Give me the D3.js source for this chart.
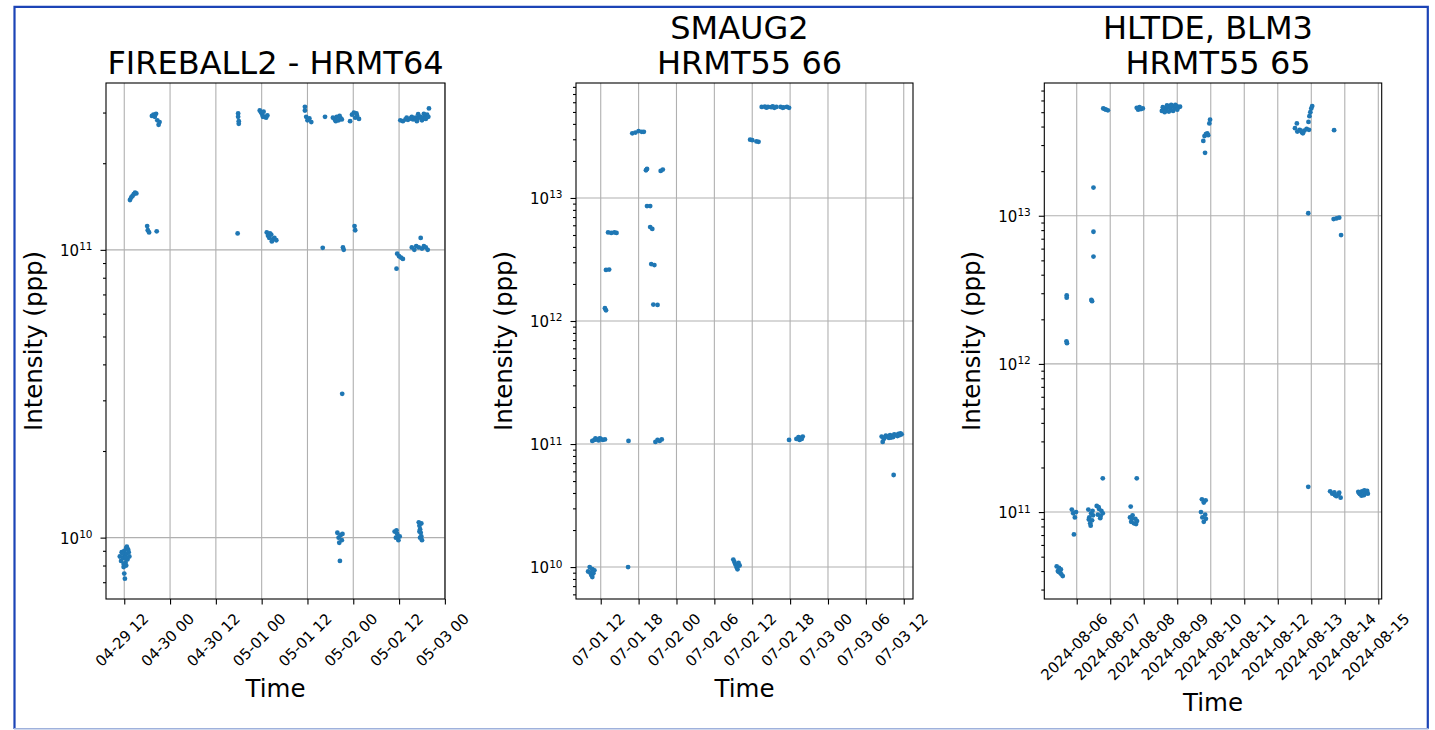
<!DOCTYPE html>
<html>
<head>
<meta charset="utf-8">
<script src="https://cdn.jsdelivr.net/npm/d3@7"></script>
<style>
  body { margin: 0; background: #fff; }
  text { font-family: "DejaVu Sans", sans-serif; fill: #000; white-space: pre; }
</style>
</head>
<body>
<svg id="fig" width="1435" height="730"></svg>
<script>
// ---- data ----

// FIREBALL2 - HRMT64
var fireballPoints = [
  ["2024-04-29T10:50", 8.6e9], ["2024-04-29T11:10", 8.3e9], ["2024-04-29T11:20", 8.9e9],
  ["2024-04-29T11:40", 8.5e9], ["2024-04-29T11:50", 7.9e9], ["2024-04-29T12:00", 9.0e9],
  ["2024-04-29T12:00", 7.5e9], ["2024-04-29T12:10", 8.7e9], ["2024-04-29T12:20", 8.2e9],
  ["2024-04-29T12:30", 9.2e9], ["2024-04-29T12:40", 8.8e9], ["2024-04-29T12:50", 8.4e9],
  ["2024-04-29T13:00", 9.1e9], ["2024-04-29T13:20", 8.6e9], ["2024-04-29T12:10", 7.2e9],
  ["2024-04-29T11:30", 8.8e9], ["2024-04-29T12:20", 8.5e9], ["2024-04-29T12:40", 9.3e9],
  ["2024-04-29T13:10", 8.9e9], ["2024-04-29T11:50", 8.1e9], ["2024-04-29T12:30", 8.0e9],
  ["2024-04-29T13:30", 1.49e11], ["2024-04-29T13:50", 1.52e11], ["2024-04-29T14:10", 1.54e11],
  ["2024-04-29T14:30", 1.56e11], ["2024-04-29T14:50", 1.58e11], ["2024-04-29T15:10", 1.57e11],
  ["2024-04-29T18:00", 1.21e11], ["2024-04-29T18:10", 1.17e11], ["2024-04-29T18:30", 1.15e11],
  ["2024-04-29T20:30", 1.16e11],
  ["2024-04-29T19:15", 2.92e11], ["2024-04-29T19:40", 2.95e11], ["2024-04-29T20:00", 2.9e11],
  ["2024-04-29T20:20", 2.97e11], ["2024-04-29T20:40", 2.82e11], ["2024-04-29T21:00", 2.72e11],
  ["2024-04-29T21:15", 2.78e11],
  ["2024-04-30T17:42", 1.14e11],
  ["2024-04-30T17:50", 2.98e11], ["2024-04-30T17:50", 2.9e11], ["2024-04-30T18:00", 2.8e11],
  ["2024-04-30T18:00", 2.74e11],
  ["2024-04-30T23:30", 3.05e11], ["2024-04-30T23:50", 3.0e11], ["2024-05-01T00:10", 2.95e11],
  ["2024-05-01T00:30", 3.02e11], ["2024-05-01T00:50", 2.9e11], ["2024-05-01T01:10", 2.88e11],
  ["2024-05-01T01:30", 2.93e11], ["2024-05-01T00:20", 2.9e11],
  ["2024-05-01T01:20", 1.15e11], ["2024-05-01T01:40", 1.12e11], ["2024-05-01T02:00", 1.1e11],
  ["2024-05-01T02:30", 1.13e11], ["2024-05-01T03:00", 1.09e11], ["2024-05-01T03:20", 1.1e11],
  ["2024-05-01T03:50", 1.08e11], ["2024-05-01T02:40", 1.07e11], ["2024-05-01T02:10", 1.14e11],
  ["2024-05-01T11:20", 3.14e11], ["2024-05-01T11:20", 3.05e11], ["2024-05-01T11:40", 2.9e11],
  ["2024-05-01T12:00", 2.82e11], ["2024-05-01T12:30", 2.86e11], ["2024-05-01T13:00", 2.78e11],
  ["2024-05-01T16:00", 1.016e11], ["2024-05-01T16:36", 2.9e11],
  ["2024-05-01T18:40", 2.88e11], ["2024-05-01T19:10", 2.84e11], ["2024-05-01T19:40", 2.9e11],
  ["2024-05-01T20:10", 2.82e11], ["2024-05-01T20:40", 2.87e11], ["2024-05-01T21:00", 2.84e11],
  ["2024-05-01T19:25", 2.8e11], ["2024-05-01T20:25", 2.92e11],
  ["2024-05-01T21:18", 1.02e11], ["2024-05-01T21:30", 1.0e11],
  ["2024-05-01T23:10", 2.8e11], ["2024-05-01T23:40", 2.95e11], ["2024-05-02T00:10", 3.0e11],
  ["2024-05-02T00:30", 2.88e11], ["2024-05-02T01:00", 2.92e11], ["2024-05-02T01:30", 2.85e11],
  ["2024-05-02T00:50", 2.98e11],
  ["2024-05-02T00:20", 1.21e11], ["2024-05-02T00:30", 1.17e11],
  ["2024-05-01T21:06", 3.16e10],
  ["2024-05-01T19:50", 1.04e10], ["2024-05-01T20:10", 1.0e10], ["2024-05-01T20:20", 9.6e9],
  ["2024-05-01T20:40", 1.02e10], ["2024-05-01T21:00", 9.8e9], ["2024-05-01T21:10", 1.03e10],
  ["2024-05-01T20:30", 8.3e9],
  ["2024-05-02T11:20", 8.6e10], ["2024-05-02T11:30", 9.7e10], ["2024-05-02T12:00", 9.5e10],
  ["2024-05-02T12:30", 9.4e10], ["2024-05-02T13:00", 9.3e10],
  ["2024-05-02T10:50", 1.05e10], ["2024-05-02T11:10", 1.0e10], ["2024-05-02T11:30", 1.03e10],
  ["2024-05-02T11:50", 9.8e9], ["2024-05-02T12:10", 1.01e10], ["2024-05-02T11:20", 1.06e10],
  ["2024-05-02T12:20", 2.82e11], ["2024-05-02T13:00", 2.8e11], ["2024-05-02T13:40", 2.84e11],
  ["2024-05-02T14:20", 2.83e11], ["2024-05-02T15:00", 2.86e11], ["2024-05-02T15:40", 2.84e11],
  ["2024-05-02T16:20", 2.88e11], ["2024-05-02T17:00", 2.87e11], ["2024-05-02T17:40", 2.9e11],
  ["2024-05-02T18:20", 2.86e11], ["2024-05-02T18:50", 2.92e11], ["2024-05-02T19:20", 2.95e11],
  ["2024-05-02T19:50", 3.1e11], ["2024-05-02T17:00", 2.96e11], ["2024-05-02T18:30", 2.97e11],
  ["2024-05-02T14:00", 2.88e11], ["2024-05-02T15:20", 2.9e11], ["2024-05-02T16:40", 2.8e11],
  ["2024-05-02T18:00", 2.82e11], ["2024-05-02T19:00", 2.85e11], ["2024-05-02T19:40", 2.9e11],
  ["2024-05-02T15:20", 1.02e11], ["2024-05-02T16:00", 1.0e11], ["2024-05-02T16:30", 1.03e11],
  ["2024-05-02T17:10", 1.02e11], ["2024-05-02T17:40", 1.1e11], ["2024-05-02T18:00", 1.01e11],
  ["2024-05-02T18:30", 1.03e11], ["2024-05-02T19:00", 1.02e11], ["2024-05-02T19:30", 1.0e11],
  ["2024-05-02T17:10", 1.13e10], ["2024-05-02T17:20", 1.1e10], ["2024-05-02T17:30", 1.07e10],
  ["2024-05-02T17:40", 1.04e10], ["2024-05-02T17:50", 1.01e10], ["2024-05-02T18:00", 9.8e9],
  ["2024-05-02T17:30", 1.0e10], ["2024-05-02T17:50", 1.12e10], ["2024-05-02T17:20", 1.05e10]
];

// SMAUG2 / HRMT55 66
var smaugPoints = [
  ["2024-07-01T10:00", 9.2e9], ["2024-07-01T10:15", 1.0e10], ["2024-07-01T10:30", 8.6e9],
  ["2024-07-01T10:40", 9.6e9], ["2024-07-01T10:50", 8.9e9], ["2024-07-01T11:00", 9.4e9],
  ["2024-07-01T10:40", 8.3e9], ["2024-07-01T10:20", 9.0e9],
  ["2024-07-01T10:40", 1.06e11], ["2024-07-01T11:00", 1.08e11], ["2024-07-01T11:20", 1.09e11],
  ["2024-07-01T11:40", 1.07e11], ["2024-07-01T12:00", 1.1e11], ["2024-07-01T12:20", 1.08e11],
  ["2024-07-01T12:40", 1.09e11], ["2024-07-01T11:10", 1.11e11], ["2024-07-01T11:50", 1.11e11],
  ["2024-07-01T12:50", 2.6e12], ["2024-07-01T13:20", 2.62e12],
  ["2024-07-01T12:40", 1.27e12], ["2024-07-01T12:50", 1.22e12],
  ["2024-07-01T13:10", 5.25e12], ["2024-07-01T13:40", 5.2e12], ["2024-07-01T14:10", 5.25e12],
  ["2024-07-01T14:30", 5.2e12],
  ["2024-07-01T16:20", 1.0e10], ["2024-07-01T16:24", 1.06e11],
  ["2024-07-01T17:00", 3.35e13], ["2024-07-01T17:30", 3.4e13], ["2024-07-01T18:00", 3.5e13],
  ["2024-07-01T18:30", 3.45e13], ["2024-07-01T18:50", 3.45e13],
  ["2024-07-01T19:10", 1.68e13], ["2024-07-01T19:20", 1.72e13],
  ["2024-07-01T19:20", 8.6e12], ["2024-07-01T19:50", 8.6e12],
  ["2024-07-01T19:50", 5.8e12], ["2024-07-01T20:10", 5.6e12],
  ["2024-07-01T20:00", 2.9e12], ["2024-07-01T20:30", 2.85e12],
  ["2024-07-01T20:20", 1.36e12], ["2024-07-01T21:00", 1.35e12],
  ["2024-07-01T20:40", 1.04e11], ["2024-07-01T21:00", 1.08e11], ["2024-07-01T21:20", 1.06e11],
  ["2024-07-01T21:40", 1.09e11],
  ["2024-07-01T21:30", 1.66e13], ["2024-07-01T21:50", 1.7e13],
  ["2024-07-02T09:00", 1.15e10], ["2024-07-02T09:10", 1.1e10], ["2024-07-02T09:20", 1.05e10],
  ["2024-07-02T09:30", 1.0e10], ["2024-07-02T09:40", 9.6e9], ["2024-07-02T09:50", 1.08e10],
  ["2024-07-02T10:00", 1.03e10],
  ["2024-07-02T11:40", 2.98e13], ["2024-07-02T12:00", 2.95e13], ["2024-07-02T12:40", 2.88e13],
  ["2024-07-02T13:00", 2.86e13],
  ["2024-07-02T13:30", 5.5e13], ["2024-07-02T14:00", 5.52e13], ["2024-07-02T14:30", 5.5e13],
  ["2024-07-02T15:00", 5.47e13], ["2024-07-02T15:30", 5.4e13], ["2024-07-02T15:50", 5.5e13],
  ["2024-07-02T14:15", 5.42e13], ["2024-07-02T15:15", 5.55e13],
  ["2024-07-02T16:30", 5.5e13], ["2024-07-02T17:00", 5.45e13], ["2024-07-02T17:30", 5.5e13],
  ["2024-07-02T17:50", 5.4e13], ["2024-07-02T16:50", 5.4e13],
  ["2024-07-02T17:50", 1.08e11],
  ["2024-07-02T19:00", 1.1e11], ["2024-07-02T19:20", 1.14e11], ["2024-07-02T19:40", 1.12e11],
  ["2024-07-02T20:00", 1.15e11], ["2024-07-02T19:30", 1.08e11], ["2024-07-02T19:50", 1.1e11],
  ["2024-07-03T08:30", 1.15e11], ["2024-07-03T08:50", 1.1e11], ["2024-07-03T09:10", 1.17e11],
  ["2024-07-03T09:30", 1.15e11], ["2024-07-03T09:50", 1.18e11], ["2024-07-03T10:10", 1.16e11],
  ["2024-07-03T10:30", 1.2e11], ["2024-07-03T10:50", 1.18e11], ["2024-07-03T11:10", 1.21e11],
  ["2024-07-03T11:30", 1.22e11], ["2024-07-03T11:40", 1.2e11], ["2024-07-03T08:40", 1.04e11],
  ["2024-07-03T10:00", 1.13e11], ["2024-07-03T09:00", 1.13e11], ["2024-07-03T09:40", 1.12e11],
  ["2024-07-03T10:20", 1.14e11], ["2024-07-03T11:00", 1.16e11], ["2024-07-03T11:20", 1.18e11],
  ["2024-07-03T10:24", 5.6e10]
];

// HLTDE, BLM3 / HRMT55 65
var hltdePoints = [
  ["2024-08-05T09:40", 4.3e10], ["2024-08-05T10:30", 4.0e10], ["2024-08-05T11:20", 4.2e10],
  ["2024-08-05T12:10", 3.9e10], ["2024-08-05T13:00", 3.8e10], ["2024-08-05T14:00", 3.7e10],
  ["2024-08-05T11:00", 3.95e10], ["2024-08-05T12:40", 4.1e10],
  ["2024-08-05T16:50", 2.9e12], ["2024-08-05T16:50", 2.8e12],
  ["2024-08-05T16:40", 1.42e12], ["2024-08-05T17:00", 1.38e12],
  ["2024-08-05T20:30", 1.04e11], ["2024-08-05T21:30", 9.8e10], ["2024-08-05T22:40", 9.2e10],
  ["2024-08-05T23:30", 1.0e11], ["2024-08-05T22:00", 7.07e10],
  ["2024-08-06T08:20", 1.04e11], ["2024-08-06T09:00", 9.2e10], ["2024-08-06T09:40", 8.4e10],
  ["2024-08-06T10:20", 9.8e10], ["2024-08-06T11:00", 8.8e10], ["2024-08-06T11:40", 9.5e10],
  ["2024-08-06T10:00", 8.1e10], ["2024-08-06T08:40", 8.9e10], ["2024-08-06T11:20", 1.02e11],
  ["2024-08-06T10:30", 2.7e12], ["2024-08-06T11:00", 2.65e12],
  ["2024-08-06T12:00", 1.55e13], ["2024-08-06T12:00", 7.8e12], ["2024-08-06T12:00", 5.3e12],
  ["2024-08-06T14:20", 1.1e11], ["2024-08-06T15:10", 9.6e10], ["2024-08-06T16:00", 1.05e11],
  ["2024-08-06T16:50", 9.1e10], ["2024-08-06T17:40", 1.02e11], ["2024-08-06T18:40", 9.8e10],
  ["2024-08-06T15:40", 1.08e11], ["2024-08-06T17:10", 9.4e10],
  ["2024-08-06T18:40", 1.69e11],
  ["2024-08-06T19:00", 5.3e13], ["2024-08-06T20:00", 5.25e13], ["2024-08-06T21:00", 5.2e13],
  ["2024-08-06T22:20", 5.15e13],
  ["2024-08-07T14:40", 1.09e11],
  ["2024-08-07T14:10", 9.2e10], ["2024-08-07T15:00", 8.6e10], ["2024-08-07T16:00", 9.5e10],
  ["2024-08-07T17:00", 8.4e10], ["2024-08-07T18:00", 9.0e10], ["2024-08-07T19:10", 8.7e10],
  ["2024-08-07T15:30", 9.0e10], ["2024-08-07T18:30", 8.3e10],
  ["2024-08-07T19:00", 1.69e11],
  ["2024-08-07T19:00", 5.35e13], ["2024-08-07T20:00", 5.2e13], ["2024-08-07T21:00", 5.4e13],
  ["2024-08-07T22:00", 5.25e13], ["2024-08-07T23:20", 5.3e13],
  ["2024-08-08T13:00", 5.1e13], ["2024-08-08T14:30", 5.3e13], ["2024-08-08T16:00", 5.2e13],
  ["2024-08-08T17:30", 5.45e13], ["2024-08-08T19:00", 5.3e13], ["2024-08-08T20:30", 5.5e13],
  ["2024-08-08T22:00", 5.35e13], ["2024-08-08T23:30", 5.5e13], ["2024-08-09T01:00", 5.4e13],
  ["2024-08-09T02:00", 5.45e13], ["2024-08-08T15:00", 5.0e13], ["2024-08-08T18:00", 5.05e13],
  ["2024-08-08T21:00", 5.1e13], ["2024-08-09T00:00", 5.2e13], ["2024-08-08T13:40", 5.4e13],
  ["2024-08-08T16:40", 5.55e13], ["2024-08-08T19:40", 5.6e13], ["2024-08-08T22:40", 5.6e13],
  ["2024-08-09T17:40", 1.22e11], ["2024-08-09T19:00", 1.16e11], ["2024-08-09T20:20", 1.2e11],
  ["2024-08-09T17:00", 1.0e11], ["2024-08-09T18:00", 9.2e10], ["2024-08-09T19:00", 8.6e10],
  ["2024-08-09T20:00", 9.6e10], ["2024-08-09T20:30", 9.0e10],
  ["2024-08-09T18:40", 3.2e13], ["2024-08-09T19:30", 3.45e13], ["2024-08-09T20:30", 3.55e13],
  ["2024-08-09T21:30", 3.6e13], ["2024-08-09T22:10", 3.5e13],
  ["2024-08-09T19:55", 2.66e13],
  ["2024-08-09T23:00", 4.2e13], ["2024-08-09T23:30", 4.45e13],
  ["2024-08-12T12:20", 3.9e13], ["2024-08-12T14:00", 3.7e13], ["2024-08-12T15:40", 3.8e13],
  ["2024-08-12T17:20", 3.65e13], ["2024-08-12T19:00", 3.75e13], ["2024-08-12T20:40", 3.85e13],
  ["2024-08-12T22:20", 3.8e13], ["2024-08-12T18:00", 3.6e13], ["2024-08-12T16:20", 3.75e13],
  ["2024-08-12T13:40", 4.2e13],
  ["2024-08-12T22:00", 4.3e13], ["2024-08-12T22:40", 4.7e13], ["2024-08-12T23:20", 5.0e13],
  ["2024-08-13T00:00", 5.3e13], ["2024-08-13T00:40", 5.5e13],
  ["2024-08-12T21:50", 1.04e13], ["2024-08-12T21:50", 1.48e11],
  ["2024-08-13T16:20", 3.78e13],
  ["2024-08-13T16:00", 9.5e12], ["2024-08-13T18:00", 9.6e12], ["2024-08-13T20:00", 9.7e12],
  ["2024-08-13T21:20", 7.4e12],
  ["2024-08-13T13:30", 1.38e11], ["2024-08-13T15:00", 1.33e11], ["2024-08-13T16:30", 1.36e11],
  ["2024-08-13T18:00", 1.28e11], ["2024-08-13T19:30", 1.32e11], ["2024-08-13T21:00", 1.25e11],
  ["2024-08-13T17:00", 1.3e11], ["2024-08-13T20:00", 1.35e11],
  ["2024-08-14T09:40", 1.37e11], ["2024-08-14T11:00", 1.32e11], ["2024-08-14T12:20", 1.38e11],
  ["2024-08-14T13:40", 1.3e11], ["2024-08-14T15:00", 1.35e11], ["2024-08-14T16:30", 1.33e11],
  ["2024-08-14T14:00", 1.4e11], ["2024-08-14T10:20", 1.34e11], ["2024-08-14T12:00", 1.29e11],
  ["2024-08-14T16:00", 1.39e11]
];

// tick positions (x) and axis limits
var fireballTicks = ["2024-04-29T12:00", "2024-04-30T00:00", "2024-04-30T12:00", "2024-05-01T00:00",
  "2024-05-01T12:00", "2024-05-02T00:00", "2024-05-02T12:00", "2024-05-03T00:00"];
var smaugTicks = ["2024-07-01T12:00", "2024-07-01T18:00", "2024-07-02T00:00", "2024-07-02T06:00",
  "2024-07-02T12:00", "2024-07-02T18:00", "2024-07-03T00:00", "2024-07-03T06:00", "2024-07-03T12:00"];
var hltdeTicks = ["2024-08-06T00:00", "2024-08-07T00:00", "2024-08-08T00:00", "2024-08-09T00:00",
  "2024-08-10T00:00", "2024-08-11T00:00", "2024-08-12T00:00", "2024-08-13T00:00",
  "2024-08-14T00:00", "2024-08-15T00:00"];

var fireballXLim = ["2024-04-29T07:13", "2024-05-03T00:02"];
var smaugXLim = ["2024-07-01T08:05", "2024-07-03T13:28"];
var hltdeXLim = ["2024-08-05T00:47", "2024-08-15T02:26"];
var fireballYLim = [6.12e9, 3.8e11];
var smaugYLim = [5.5e9, 8.6e13];
var hltdeYLim = [2.59e10, 7.87e13];

var parseTime = d3.utcParse("%Y-%m-%dT%H:%M");

var panels = [
  { title: ["FIREBALL2 - HRMT64"], points: fireballPoints, ticks: fireballTicks,
    fmt: d3.utcFormat("%m-%d %H"), xlim: fireballXLim, ylim: fireballYLim, left: 106, right: 445 },
  { title: ["SMAUG2 ", " HRMT55 66"], points: smaugPoints, ticks: smaugTicks,
    fmt: d3.utcFormat("%m-%d %H"), xlim: smaugXLim, ylim: smaugYLim, left: 576, right: 913 },
  { title: ["HLTDE, BLM3 ", " HRMT55 65"], points: hltdePoints, ticks: hltdeTicks,
    fmt: d3.utcFormat("%Y-%m-%d"), xlim: hltdeXLim, ylim: hltdeYLim, left: 1044.3, right: 1381.7 }
];

var plotTop = 83, plotBottom = 599;
var fig = d3.select("#fig");

// figure frame (blue border of the screenshot)
fig.append("path")
  .attr("d", "M14.5,729 V6.8 H1427.8 V729")
  .attr("fill", "none").attr("stroke", "#1c44b6").attr("stroke-width", 2.2);
fig.append("line")
  .attr("x1", 14).attr("x2", 1428.5).attr("y1", 728.8).attr("y2", 728.8)
  .attr("stroke", "#9fb1dc").attr("stroke-width", 1.5);

function isMajor(v) {
  var l = Math.log10(v);
  return Math.abs(l - Math.round(l)) < 1e-9;
}

panels.forEach(function(p) {
  var g = fig.append("g");
  var x = d3.scaleUtc().domain(p.xlim.map(parseTime)).range([p.left, p.right]);
  var y = d3.scaleLog().domain(p.ylim).range([plotBottom, plotTop]);
  var tickDates = p.ticks.map(parseTime);
  var yAll = y.ticks().filter(function(v) { return v >= p.ylim[0] && v <= p.ylim[1]; });
  var yMajor = yAll.filter(isMajor);
  var yMinor = yAll.filter(function(v) { return !isMajor(v); });

  // grid
  g.append("g").selectAll("line").data(tickDates).enter().append("line")
    .attr("x1", function(d) { return x(d); }).attr("x2", function(d) { return x(d); })
    .attr("y1", plotTop).attr("y2", plotBottom)
    .attr("stroke", "#b0b0b0").attr("stroke-width", 1.1);
  g.append("g").selectAll("line").data(yMajor).enter().append("line")
    .attr("x1", p.left).attr("x2", p.right)
    .attr("y1", function(d) { return y(d); }).attr("y2", function(d) { return y(d); })
    .attr("stroke", "#b0b0b0").attr("stroke-width", 1.1);

  // scatter
  g.append("g").selectAll("circle").data(p.points).enter().append("circle")
    .attr("cx", function(d) { return x(parseTime(d[0])); })
    .attr("cy", function(d) { return y(d[1]); })
    .attr("r", 2.4)
    .attr("fill", "#1f77b4");

  // axes ticks
  var xAxis = g.append("g").attr("transform", "translate(0," + plotBottom + ")")
    .call(d3.axisBottom(x).tickValues(tickDates).tickSize(5.5).tickFormat(""));
  var yAxisMaj = g.append("g").attr("transform", "translate(" + p.left + ",0)")
    .call(d3.axisLeft(y).tickValues(yMajor).tickSize(5.5).tickFormat(""));
  var yAxisMin = g.append("g").attr("transform", "translate(" + p.left + ",0)")
    .call(d3.axisLeft(y).tickValues(yMinor).tickSize(3).tickFormat(""));
  [xAxis, yAxisMaj, yAxisMin].forEach(function(a) {
    a.select(".domain").remove();
    a.selectAll(".tick line").attr("stroke", "#000").attr("stroke-width", 1.1);
  });

  // spines
  g.append("rect")
    .attr("x", p.left).attr("y", plotTop)
    .attr("width", p.right - p.left).attr("height", plotBottom - plotTop)
    .attr("fill", "none").attr("stroke", "#000").attr("stroke-width", 1.1);

  // y tick labels 10^n
  yMajor.forEach(function(v) {
    var t = g.append("text")
      .attr("x", p.left - 13.5).attr("y", y(v) + 6)
      .attr("text-anchor", "end").style("font-size", "15px");
    t.append("tspan").text("10");
    t.append("tspan").attr("dy", -5.5).style("font-size", "10.5px")
      .text(String(Math.round(Math.log10(v))));
  });

  // x tick labels, rotated 45 degrees
  var fs = 15, maxH = 0;
  tickDates.forEach(function(d) {
    var t = g.append("text").style("font-size", fs + "px")
      .attr("text-anchor", "middle").attr("dy", "0.36em")
      .text(p.fmt(d));
    var L = t.node().getComputedTextLength();
    var h = (L + fs * 0.73) * Math.SQRT1_2;
    maxH = Math.max(maxH, h);
    t.attr("transform", "translate(" + (x(d) - 2.5) + "," + (612 + h / 2) + ") rotate(-45)");
  });

  var cx = (p.left + p.right) / 2;

  // axis labels
  g.append("text")
    .attr("x", cx).attr("y", 612 + maxH + 12 + 17.5)
    .attr("text-anchor", "middle").style("font-size", "24.5px")
    .text("Time");
  g.append("text")
    .attr("transform", "translate(" + (p.left - 64) + "," + ((plotTop + plotBottom) / 2) + ") rotate(-90)")
    .attr("text-anchor", "middle").style("font-size", "24.5px")
    .text("Intensity (ppp)");

  // title
  var lines = p.title;
  lines.forEach(function(s, i) {
    g.append("text")
      .attr("x", cx).attr("y", 74 - (lines.length - 1 - i) * 35)
      .attr("text-anchor", "middle").style("font-size", "32px")
      .text(s);
  });
});
</script>
</body>
</html>
